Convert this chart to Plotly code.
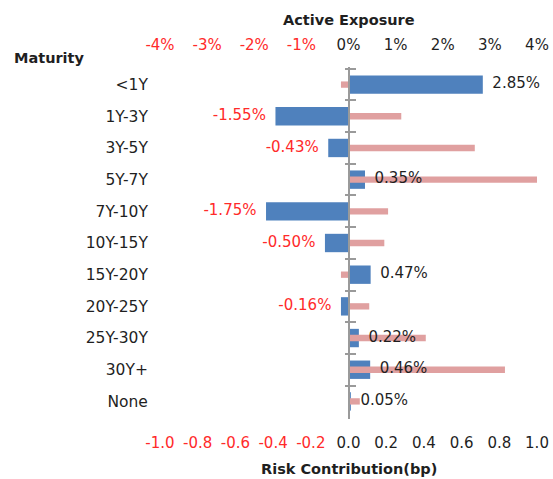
import plotly.graph_objects as go

maturity = ["<1Y", "1Y-3Y", "3Y-5Y", "5Y-7Y", "7Y-10Y", "10Y-15Y",
            "15Y-20Y", "20Y-25Y", "25Y-30Y", "30Y+", "None"]
active_exposure = [2.85, -1.55, -0.43, 0.35, -1.75, -0.50,
                   0.47, -0.16, 0.22, 0.46, 0.05]
risk_contribution = [-0.04, 0.28, 0.67, 1.0, 0.21, 0.19,
                     -0.04, 0.11, 0.41, 0.83, 0.06]
exposure_ticks = [-4, -3, -2, -1, 0, 1, 2, 3, 4]
risk_ticks = [-1.0, -0.8, -0.6, -0.4, -0.2, 0.0, 0.2, 0.4, 0.6, 0.8, 1.0]

RED = "#ff2a2a"
DARK = "#1f1f1f"
GREY = "#9a9a9a"
FONT = "DejaVu Sans"
PAD = "\u00a0\u00a0"


def tick_label(v, fmt):
    color = RED if v < 0 else DARK
    return '<span style="color:%s">%s</span>' % (color, fmt % v)


labels = [("%.2f%%" % v) + PAD if v < 0 else PAD + ("%.2f%%" % v)
          for v in active_exposure]
label_colors = [RED if v < 0 else DARK for v in active_exposure]
label_pos = ["middle left" if v < 0 else "middle right" for v in active_exposure]

fig = go.Figure()
# active exposure bars (top axis)
fig.add_trace(go.Bar(
    y=maturity, x=active_exposure, orientation="h", width=0.58,
    marker=dict(color="#4f81bd", line=dict(width=0)),
    xaxis="x", yaxis="y", name="Active Exposure"))
# risk contribution bars (bottom axis), drawn over the blue ones
fig.add_trace(go.Bar(
    y=maturity, x=risk_contribution, orientation="h", width=0.2,
    marker=dict(color="#e0a0a0", line=dict(width=0)),
    xaxis="x2", yaxis="y3", name="Risk Contribution"))
# value labels on top of everything
fig.add_trace(go.Scatter(
    y=maturity, x=active_exposure, mode="text", text=labels,
    textposition=label_pos, cliponaxis=False,
    textfont=dict(family=FONT, size=15, color=label_colors),
    xaxis="x3", yaxis="y2", hoverinfo="skip"))

fig.update_layout(
    width=553, height=479,
    margin=dict(l=160, r=16, t=67, b=60),
    paper_bgcolor="white", plot_bgcolor="white",
    barmode="overlay", showlegend=False,
    font=dict(family=FONT, size=15, color=DARK),
    xaxis=dict(side="top", range=[-4, 4], tickvals=exposure_ticks,
               ticktext=[tick_label(v, "%d%%") for v in exposure_ticks],
               showgrid=False, zeroline=False, showline=False,
               ticks="outside", ticklen=10, tickcolor="rgba(0,0,0,0)",
               automargin=False),
    xaxis2=dict(overlaying="x", side="bottom", anchor="y", range=[-1, 1],
                tickvals=risk_ticks,
                ticktext=[tick_label(v, "%.1f") for v in risk_ticks],
                showgrid=False, zeroline=False, showline=False,
                ticks="outside", ticklen=10, tickcolor="rgba(0,0,0,0)",
                automargin=False),
    xaxis3=dict(overlaying="x", matches="x", visible=False),
    yaxis=dict(categoryorder="array", categoryarray=maturity,
               autorange="reversed", showgrid=False, zeroline=False,
               showline=False, ticks="outside", ticklen=8,
               tickcolor="rgba(0,0,0,0)", automargin=False,
               tickfont=dict(family=FONT, size=15.5, color=DARK)),
    yaxis2=dict(matches="y", overlaying="y", anchor="free", position=0.5,
                side="left", showline=True, linecolor=GREY, linewidth=2,
                ticks="inside", ticklen=6, tickcolor=GREY, tickwidth=1.5,
                tickson="boundaries", showticklabels=False, showgrid=False,
                zeroline=False, automargin=False),
    yaxis3=dict(matches="y", overlaying="y", anchor="free", position=0.5,
                side="left", showline=False,
                ticks="outside", ticklen=4, tickcolor=GREY, tickwidth=1.5,
                tickson="boundaries", showticklabels=False, showgrid=False,
                zeroline=False, automargin=False),
)

fig.add_annotation(text="<b>Active Exposure</b>", xref="paper", yref="paper",
                   x=0.5, y=1.134, yanchor="middle", showarrow=False,
                   font=dict(family=FONT, size=14.5, color=DARK))
fig.add_annotation(text="<b>Risk Contribution(bp)</b>", xref="paper",
                   yref="paper", x=0.5, y=-0.142, yanchor="middle",
                   showarrow=False,
                   font=dict(family=FONT, size=14.5, color=DARK))
fig.add_annotation(text="<b>Maturity</b>", xref="paper", yref="paper",
                   x=-0.3926, y=1.0256, xanchor="left", yanchor="middle",
                   showarrow=False,
                   font=dict(family=FONT, size=14.5, color=DARK))

fig.write_html("out.html", config={"displayModeBar": False},
               post_script="document.body.style.margin='0';")
